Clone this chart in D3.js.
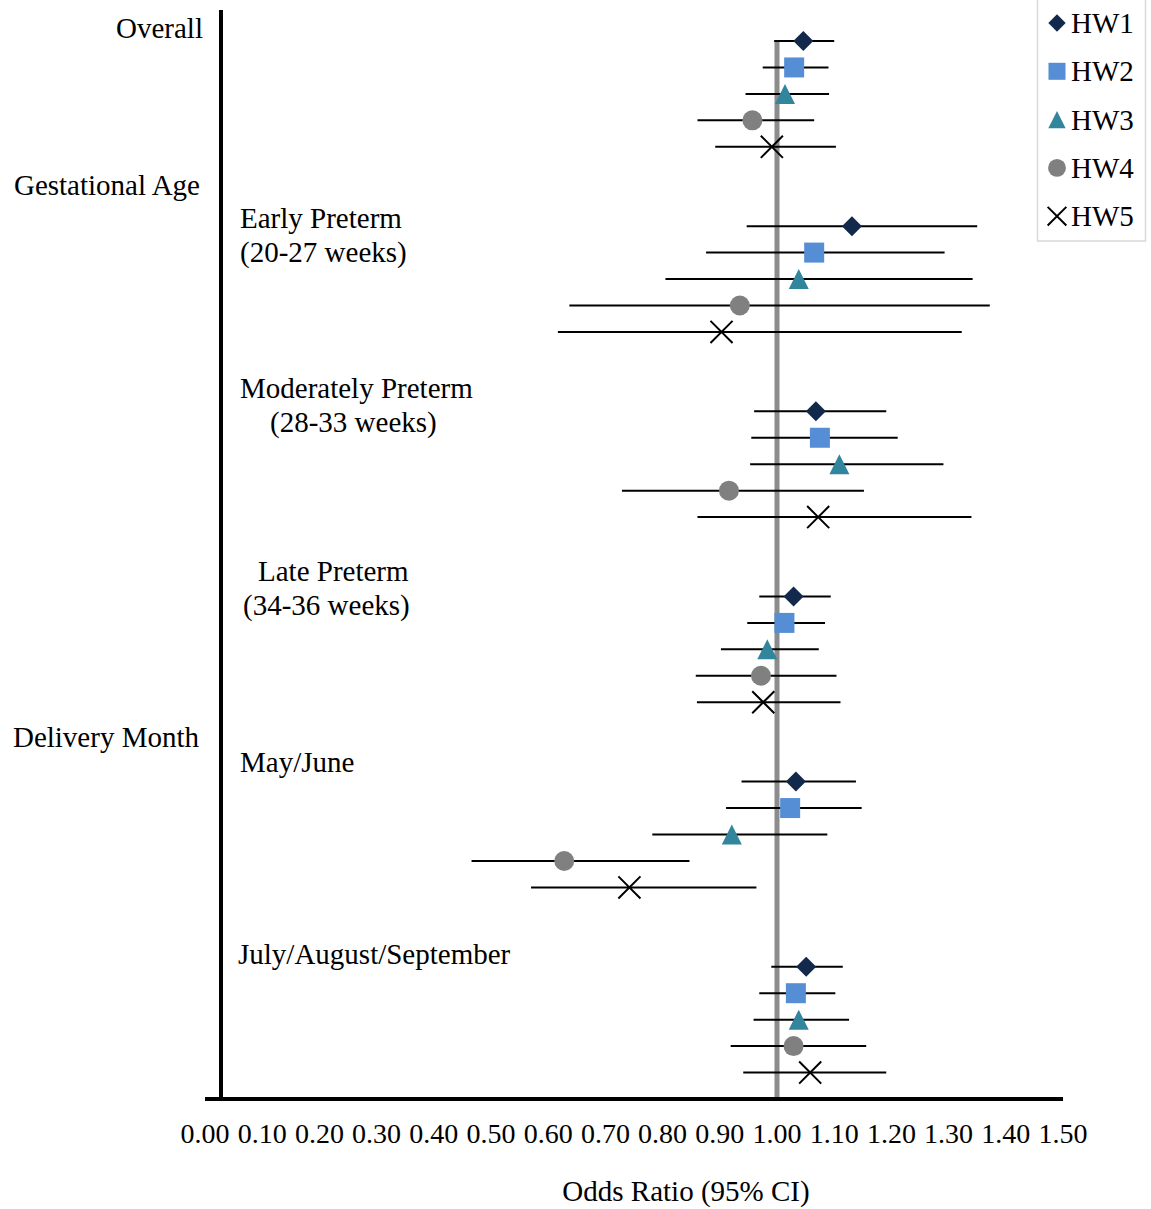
<!DOCTYPE html>
<html>
<head>
<meta charset="utf-8">
<script src="https://cdn.jsdelivr.net/npm/d3@7"></script>
<style>
  body { margin: 0; background: #fff; }
  text { font-family: "Liberation Serif", "Times New Roman", serif; fill: #000; }
</style>
</head>
<body>
<div id="chart"></div>
<script>
var WIDTH = 1151
var HEIGHT = 1209

// series names and marker colours
var series = ["HW1", "HW2", "HW3", "HW4", "HW5"]
var colors = ["#13294b", "#558ed5", "#31859c", "#808080", "#000000"]

// subgroups, top to bottom
var groups = ["Overall", "Early Preterm", "Moderately Preterm", "Late Preterm", "May/June", "July/August/September"]

// odds ratios, one row per subgroup, one value per series
var or = [
  [1.046, 1.030, 1.014, 0.957, 0.991],
  [1.131, 1.065, 1.038, 0.935, 0.903],
  [1.068, 1.075, 1.109, 0.916, 1.072],
  [1.029, 1.013, 0.983, 0.972, 0.976],
  [1.033, 1.023, 0.921, 0.628, 0.742],
  [1.051, 1.033, 1.038, 1.029, 1.058]
]
var lower = [
  [0.995, 0.975, 0.945, 0.861, 0.892],
  [0.947, 0.876, 0.805, 0.637, 0.617],
  [0.960, 0.955, 0.953, 0.729, 0.861],
  [0.969, 0.948, 0.902, 0.858, 0.860],
  [0.938, 0.911, 0.782, 0.466, 0.570],
  [0.990, 0.969, 0.959, 0.919, 0.941]
]
var upper = [
  [1.100, 1.090, 1.091, 1.065, 1.103],
  [1.350, 1.293, 1.342, 1.372, 1.323],
  [1.191, 1.211, 1.291, 1.152, 1.340],
  [1.094, 1.084, 1.073, 1.104, 1.111],
  [1.138, 1.148, 1.088, 0.847, 0.964],
  [1.115, 1.102, 1.126, 1.156, 1.191]
]
var ticks = [0, 0.1, 0.2, 0.3, 0.4, 0.5, 0.6, 0.7, 0.8, 0.9, 1.0, 1.1, 1.2, 1.3, 1.4, 1.5]

var svg = d3.select("#chart").append("svg")
  .attr("width", WIDTH)
  .attr("height", HEIGHT)

var x = d3.scaleLinear().domain([0, 1.5]).range([205, 1063])
// each subgroup takes 7 rows: 5 estimates and a gap of 2
var y = d3.scaleLinear().domain([0, 40]).range([41, 1099])

var rows = []
groups.forEach(function(g, gi) {
  series.forEach(function(s, si) {
    rows.push({ group: g, s: si, row: gi * 7 + si, or: or[gi][si], lo: lower[gi][si], hi: upper[gi][si] })
  })
})

// marker shapes
var diamond = { draw: function(ctx, size) {
  var r = Math.sqrt(size) / 2
  ctx.moveTo(0, -r); ctx.lineTo(r, 0); ctx.lineTo(0, r); ctx.lineTo(-r, 0); ctx.closePath()
}}
var tri = { draw: function(ctx, size) {
  var r = Math.sqrt(size) / 2
  ctx.moveTo(0, -r); ctx.lineTo(r, r); ctx.lineTo(-r, r); ctx.closePath()
}}
var shapes = [diamond, d3.symbolSquare, tri, d3.symbolCircle, d3.symbolX]
var sizes = [400, 400, 400, 314, 320]

// reference line at 1
svg.append("line")
  .attr("x1", x(1)).attr("x2", x(1))
  .attr("y1", y(0)).attr("y2", y(40))
  .attr("stroke", "#8c8c8c")
  .attr("stroke-width", 5)

// confidence intervals
svg.selectAll(".ci")
  .data(rows)
  .enter()
  .append("line")
  .attr("class", "ci")
  .attr("x1", function(d) { return x(d.lo) })
  .attr("x2", function(d) { return x(d.hi) })
  .attr("y1", function(d) { return y(d.row) })
  .attr("y2", function(d) { return y(d.row) })
  .attr("stroke", "#000")
  .attr("stroke-width", 2)

// point estimates
svg.selectAll(".pt")
  .data(rows)
  .enter()
  .append("path")
  .attr("class", "pt")
  .attr("transform", function(d) { return "translate(" + x(d.or) + "," + y(d.row) + ")" })
  .attr("d", function(d) { return d3.symbol().type(shapes[d.s]).size(sizes[d.s])() })
  .attr("fill", function(d) { return d.s == 4 ? "none" : colors[d.s] })
  .attr("stroke", function(d) { return d.s == 4 ? "#000" : "none" })
  .attr("stroke-width", 2)

// axes
svg.append("line")
  .attr("x1", 221).attr("x2", 221)
  .attr("y1", 10).attr("y2", y(40) + 2)
  .attr("stroke", "#000").attr("stroke-width", 4)
svg.append("line")
  .attr("x1", x(0)).attr("x2", x(1.5))
  .attr("y1", y(40)).attr("y2", y(40))
  .attr("stroke", "#000").attr("stroke-width", 4)

svg.selectAll(".tick")
  .data(ticks)
  .enter()
  .append("text")
  .attr("class", "tick")
  .attr("x", function(d) { return x(d) })
  .attr("y", 1143)
  .attr("text-anchor", "middle")
  .style("font-size", "28px")
  .text(function(d) { return d3.format(".2f")(d) })

svg.append("text")
  .attr("x", 686).attr("y", 1201)
  .attr("text-anchor", "middle")
  .style("font-size", "29px")
  .text("Odds Ratio (95% CI)")

// row labels
var labels = [
  ["Overall", 203, 38, "end"],
  ["Gestational Age", 200, 195, "end"],
  ["Early Preterm", 240, 228, "start"],
  ["(20-27 weeks)", 240, 262, "start"],
  ["Moderately Preterm", 240, 398, "start"],
  ["(28-33 weeks)", 270, 432, "start"],
  ["Late Preterm", 258, 581, "start"],
  ["(34-36 weeks)", 243, 615, "start"],
  ["Delivery Month", 199, 747, "end"],
  ["May/June", 240, 772, "start"],
  ["July/August/September", 238, 964, "start"]
]
svg.selectAll(".lab")
  .data(labels)
  .enter()
  .append("text")
  .attr("class", "lab")
  .attr("x", function(d) { return d[1] })
  .attr("y", function(d) { return d[2] })
  .attr("text-anchor", function(d) { return d[3] })
  .style("font-size", "29px")
  .text(function(d) { return d[0] })

// legend
var legend = svg.append("g")
legend.append("rect")
  .attr("x", 1037.5).attr("y", -1)
  .attr("width", 108).attr("height", 242)
  .attr("fill", "#fff")
  .attr("stroke", "#d9d9d9")
  .attr("stroke-width", 1.5)
var lsizes = [300, 290, 300, 250, 230]
var item = legend.selectAll(".item")
  .data(series)
  .enter()
  .append("g")
  .attr("class", "item")
  .attr("transform", function(d, i) { return "translate(0," + (23 + i * 48.3) + ")" })
item.append("path")
  .attr("transform", "translate(1057,0)")
  .attr("d", function(d, i) { return d3.symbol().type(shapes[i]).size(lsizes[i])() })
  .attr("fill", function(d, i) { return i == 4 ? "none" : colors[i] })
  .attr("stroke", function(d, i) { return i == 4 ? "#000" : "none" })
  .attr("stroke-width", 2)
item.append("text")
  .attr("x", 1071).attr("y", 10)
  .style("font-size", "29px")
  .text(function(d) { return d })
</script>
</body>
</html>
